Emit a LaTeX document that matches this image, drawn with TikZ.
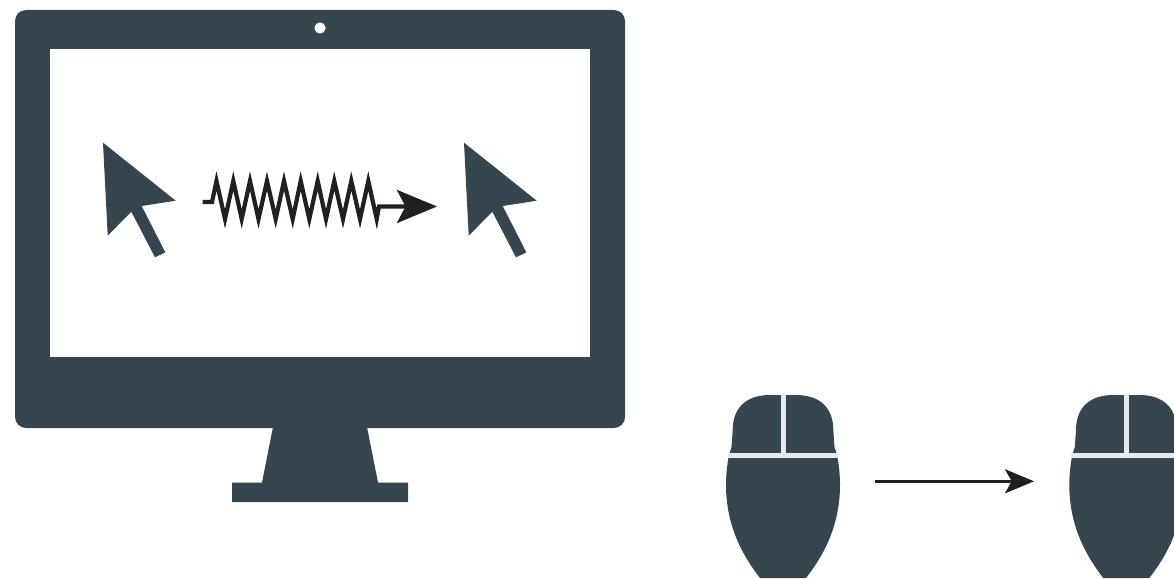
\documentclass[tikz,border=0pt]{standalone}
\usetikzlibrary{arrows.meta}
\definecolor{slate}{HTML}{37454F}
\definecolor{inkblack}{HTML}{231F20}
\definecolor{seam}{HTML}{E7EAEC}
\tikzset{
  x=1pt,y=-1pt,
  slatefill/.style={fill=slate,draw=none},
  springline/.style={draw=inkblack,line width=4.2pt,miter limit=10,
    -{Stealth[length=40pt,width=33pt,inset=8.5pt,fill=inkblack]}},
  moveline/.style={draw=inkblack,line width=3pt,
    -{Stealth[length=29pt,width=24pt,inset=6.7pt,fill=inkblack]}},
  seamline/.style={draw=seam,line width=5pt},
  pics/cursor/.style={code={
    \fill[slatefill] (0,0) -- (72.7,58) -- (38.7,63.3) -- (62.3,109.6) -- (52,114.6)
      -- (28.3,69) -- (4.7,93) -- cycle;
  }},
  pics/mouseshape/.style={code={
    \fill[slatefill] (-13,0) .. controls (-38,0) and (-50.3,14) .. (-50.3,35)
      -- (-51.5,52) -- (-54,60)
      .. controls (-56,70) and (-57,80) .. (-57,90)
      .. controls (-57,130) and (-41,160) .. (-23,183)
      -- (23,183)
      .. controls (41,160) and (57,130) .. (57,90)
      .. controls (57,80) and (56,70) .. (54,60)
      -- (51.5,52) -- (50.3,35)
      .. controls (50.3,14) and (38,0) .. (13,0) -- cycle;
    \draw[seamline] (0,0) -- (0,60.5);
    \draw[seamline] (-55,60.5) -- (55,60.5);
  }}
}
\begin{document}
\begin{tikzpicture}
\clip (0,0) rectangle (1174,578);
% monitor
\fill[slatefill,rounded corners=11pt] (15,10) rectangle (625,428);
\fill[white] (50,49) rectangle (590,357);
\fill[white] (320,28) circle (5.6);
\fill[slatefill] (273,427) -- (367,427) -- (378,482.5) -- (408,482.5) -- (408,502)
  -- (232,502) -- (232,482.5) -- (262,482.5) -- cycle;
% cursors
\pic at (103,142.7) {cursor};
\pic at (464,142.7) {cursor};
% spring arrow
\coordinate (springstart) at (202.7,202);
\coordinate (springtip) at (437,206.5);
\draw[springline] (springstart) -- (212,202) -- (216.5,181)
  -- (225,219) -- (233.3,181) -- (241.7,219) -- (250,181) -- (258.5,219)
  -- (267,181) -- (275.7,219) -- (284,181) -- (292.7,219) -- (300.7,181)
  -- (309.3,219) -- (317.7,181) -- (326,219) -- (334.3,181) -- (343,219)
  -- (351.3,181) -- (360,219) -- (368.3,181) -- (376.7,219) -- (379,206.5)
  -- (springtip);
% mice
\pic at (783,395) {mouseshape};
\pic at (1126.3,395) {mouseshape};
\coordinate (movestart) at (875,481.3);
\coordinate (movetip) at (1034,481.3);
\draw[moveline] (movestart) -- (movetip);
\end{tikzpicture}
\end{document}
